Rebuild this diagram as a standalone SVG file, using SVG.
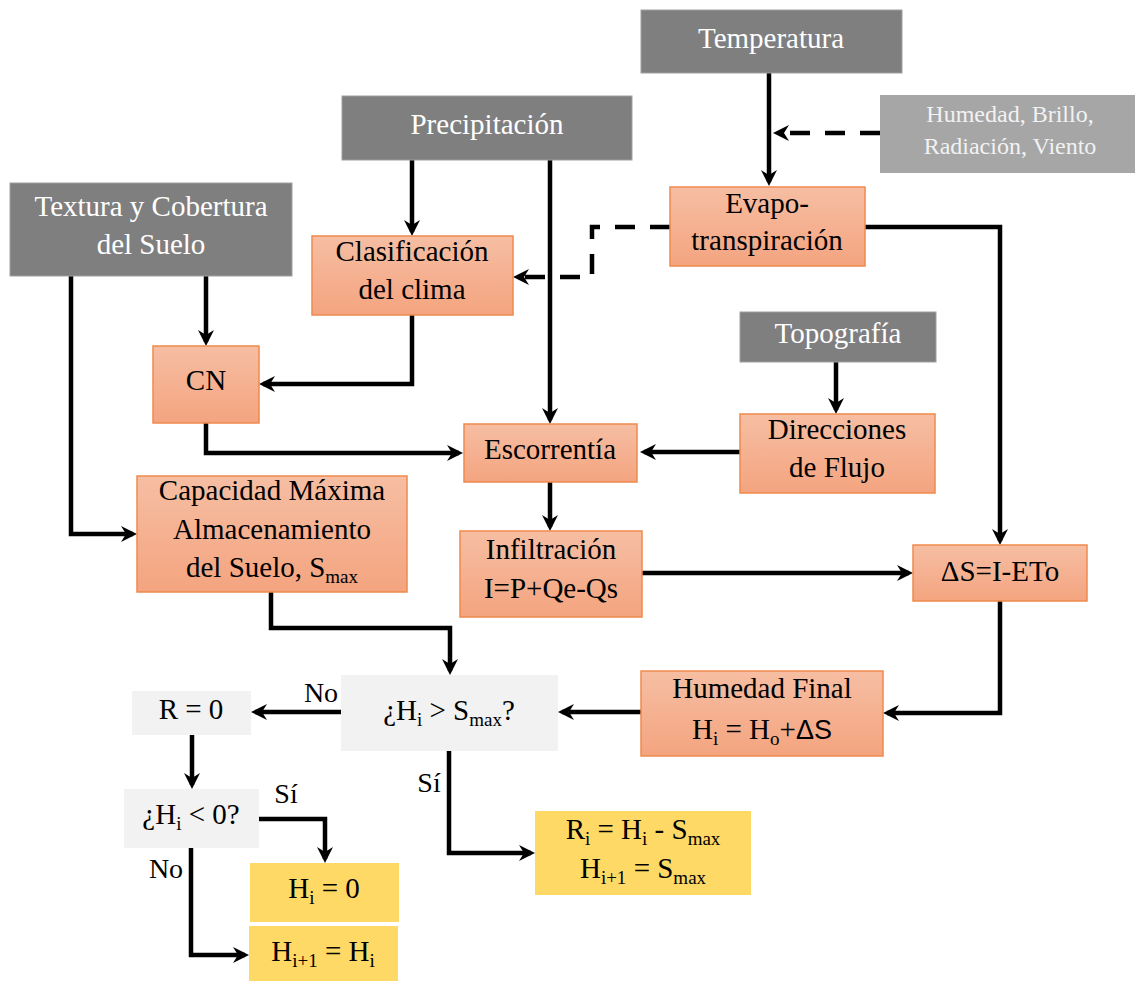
<svg xmlns="http://www.w3.org/2000/svg" width="1135" height="982" viewBox="0 0 1135 982">
<defs>
<linearGradient id="sal" x1="0" y1="0" x2="0" y2="1">
<stop offset="0" stop-color="#f6bea3"/>
<stop offset="1" stop-color="#f4a47f"/>
</linearGradient>
<marker id="ah" markerUnits="userSpaceOnUse" markerWidth="18" markerHeight="18" refX="12" refY="8" orient="auto">
<path d="M0,0 L16,8 L0,16 L5,8 z" fill="#000"/>
</marker>
<style>
.dark{fill:#7f7f7f;stroke:#a0a0a0;stroke-width:1}
.lgray{fill:#a6a6a6}
.sal{fill:url(#sal);stroke:#ef8a4c;stroke-width:1.5}
.pale{fill:#f2f2f2}
.yel{fill:#ffd966}
text{font-family:"Liberation Serif","Times New Roman",serif;font-size:29px;text-anchor:middle;fill:#000}
.w{fill:#ffffff}
.w2{fill:#f2f2f2;font-size:24px}
.lbl{font-size:28px}
.sub{font-size:19px}
.sans{font-family:"Liberation Sans",Arial,sans-serif;font-size:27px}
.c{fill:none;stroke:#000;stroke-width:4.5;marker-end:url(#ah)}
.d{fill:none;stroke:#000;stroke-width:4.5;stroke-dasharray:20 15;marker-end:url(#ah)}
</style>
</defs>
<rect width="1135" height="982" fill="#ffffff"/>

<g id="connectors">
<path class="c" d="M769,73 V182"/>
<path class="d" d="M880,133 H777"/>
<path class="d" d="M670,227 H592 V277 H517"/>
<path class="c" d="M865,227 H1000 V541"/>
<path class="c" d="M412,160 V232"/>
<path class="c" d="M550,160 V420"/>
<path class="c" d="M206,276 V342"/>
<path class="c" d="M71,276 V534 H133"/>
<path class="c" d="M412,315 V384 H263"/>
<path class="c" d="M206,423 V453 H459"/>
<path class="c" d="M836,362 V410"/>
<path class="c" d="M740,452 H644"/>
<path class="c" d="M550,482 V527"/>
<path class="c" d="M642,573 H909"/>
<path class="c" d="M1000,601 V713 H887"/>
<path class="c" d="M641,712 H562"/>
<path class="c" d="M271,592 V628 H450 V671"/>
<path class="c" d="M341,712 H255"/>
<path class="c" d="M192,735 V785"/>
<path class="c" d="M259,819 H325 V859"/>
<path class="c" d="M191,848 V955 H245"/>
<path class="c" d="M449,751 V853 H531"/>
<text class="lbl" x="321" y="702">No</text>
<text class="lbl" x="286" y="803">Sí</text>
<text class="lbl" x="166" y="878">No</text>
<text class="lbl" x="429" y="792">Sí</text>
</g>

<g id="temperatura">
<rect class="dark" x="641" y="10" width="261" height="63"/>
<text class="w" x="771" y="48">Temperatura</text>
</g>
<g id="humedad-brillo">
<rect class="lgray" x="880" y="95" width="255" height="78"/>
<text class="w2" x="1010" y="122">Humedad, Brillo,</text>
<text class="w2" x="1010" y="154">Radiación, Viento</text>
</g>
<g id="precipitacion">
<rect class="dark" x="342" y="96" width="290" height="64"/>
<text class="w" x="487" y="134">Precipitación</text>
</g>
<g id="textura">
<rect class="dark" x="10" y="183" width="282" height="93"/>
<text class="w" x="151" y="216">Textura y Cobertura</text>
<text class="w" x="151" y="254">del Suelo</text>
</g>
<g id="evapotranspiracion">
<rect class="sal" x="670" y="187" width="195" height="79"/>
<text x="767" y="213">Evapo-</text>
<text x="767" y="250">transpiración</text>
</g>
<g id="clasificacion">
<rect class="sal" x="312" y="236" width="201" height="79"/>
<text x="412" y="261">Clasificación</text>
<text x="412" y="299">del clima</text>
</g>
<g id="cn">
<rect class="sal" x="153" y="346" width="106" height="77"/>
<text x="206" y="390">CN</text>
</g>
<g id="topografia">
<rect class="dark" x="740" y="312" width="196" height="50"/>
<text class="w" x="838" y="343">Topografía</text>
</g>
<g id="escorrentia">
<rect class="sal" x="464" y="424" width="173" height="58"/>
<text x="550" y="459">Escorrentía</text>
</g>
<g id="direcciones">
<rect class="sal" x="740" y="414" width="195" height="79"/>
<text x="837" y="439">Direcciones</text>
<text x="837" y="477">de Flujo</text>
</g>
<g id="capacidad">
<rect class="sal" x="137" y="476" width="270" height="116"/>
<text x="272" y="500">Capacidad Máxima</text>
<text x="272" y="539">Almacenamiento</text>
<text x="272" y="577">del Suelo, S<tspan class="sub" dy="6">max</tspan></text>
</g>
<g id="infiltracion">
<rect class="sal" x="460" y="531" width="182" height="86"/>
<text x="551" y="559">Infiltración</text>
<text x="551" y="598">I=P+Qe-Qs</text>
</g>
<g id="delta-s">
<rect class="sal" x="913" y="545" width="174" height="56"/>
<text x="1000" y="581">ΔS=I-ETo</text>
</g>
<g id="humedad-final">
<rect class="sal" x="641" y="671" width="242" height="85"/>
<text x="762" y="698">Humedad Final</text>
<text x="762" y="739">H<tspan class="sub" dy="6">i</tspan><tspan dy="-6"> = H</tspan><tspan class="sub" dy="6">o</tspan><tspan dy="-6">+</tspan><tspan class="sans">ΔS</tspan></text>
</g>
<g id="decision-smax">
<rect class="pale" x="341" y="675" width="217" height="76"/>
<text x="449" y="720">¿H<tspan class="sub" dy="6">i</tspan><tspan dy="-6"> &gt; S</tspan><tspan class="sub" dy="6">max</tspan><tspan dy="-6">?</tspan></text>
</g>
<g id="r-cero">
<rect class="pale" x="132" y="691" width="119" height="44"/>
<text x="191" y="719">R = 0</text>
</g>
<g id="decision-cero">
<rect class="pale" x="124" y="789" width="135" height="59"/>
<text x="191" y="824">¿H<tspan class="sub" dy="6">i</tspan><tspan dy="-6"> &lt; 0?</tspan></text>
</g>
<g id="hi-cero">
<rect class="yel" x="250" y="863" width="149" height="59"/>
<text x="324" y="898">H<tspan class="sub" dy="6">i</tspan><tspan dy="-6"> = 0</tspan></text>
</g>
<g id="hi1-hi">
<rect class="yel" x="249" y="926" width="149" height="55"/>
<text x="323" y="961">H<tspan class="sub" dy="6">i+1</tspan><tspan dy="-6"> = H</tspan><tspan class="sub" dy="6">i</tspan></text>
</g>
<g id="ri-smax">
<rect class="yel" x="535" y="811" width="216" height="84"/>
<text x="643" y="839">R<tspan class="sub" dy="6">i</tspan><tspan dy="-6"> = H</tspan><tspan class="sub" dy="6">i</tspan><tspan dy="-6"> - S</tspan><tspan class="sub" dy="6">max</tspan></text>
<text x="643" y="878">H<tspan class="sub" dy="6">i+1</tspan><tspan dy="-6"> = S</tspan><tspan class="sub" dy="6">max</tspan></text>
</g>
</svg>
